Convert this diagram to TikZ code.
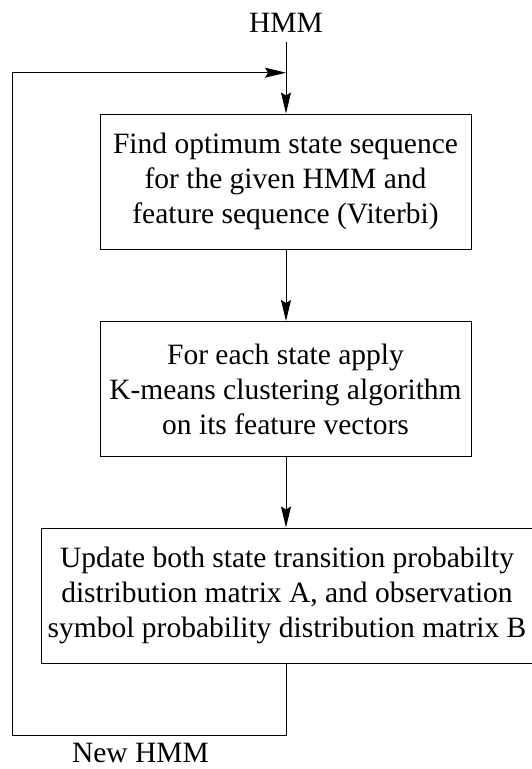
\documentclass[tikz,border=0pt]{standalone}
\usepackage{fontspec}
\setmainfont{Liberation Serif}
\usetikzlibrary{arrows.meta}
\begin{document}
\begin{tikzpicture}[x=1pt,y=-1pt,
  every node/.style={font=\fontsize{29.5}{35}\selectfont},
  procbox/.style={draw, line width=1pt, align=center, inner sep=0pt, minimum height=135pt},
  arr/.style={line width=1pt, -{Stealth[length=21pt,width=10pt,inset=3pt]}},
  conn/.style={line width=1pt}]
\useasboundingbox (0,0) rectangle (531,769);
\node[anchor=base, inner sep=0pt] (hmm) at (286,32) {HMM};
\node[procbox, minimum width=371pt] (box1) at (285.5,181.5)
  {Find optimum state sequence\\for the given HMM and\\feature sequence (Viterbi)};
\node[procbox, minimum width=371pt] (box2) at (285.5,389)
  {For each state apply\\K-means clustering algorithm\\on its feature vectors};
\node[procbox, minimum width=492pt] (box3) at (287,595.5)
  {Update both state transition probabilty\\distribution matrix A, and observation\\symbol probability distribution matrix B};
\node[anchor=base, inner sep=0pt] (newhmm) at (140.5,762) {New HMM};
\coordinate (top) at (286,42);
\coordinate (j) at (286,72.7);
\coordinate (bl) at (12.3,735);
\draw[arr] (top) -- (top |- box1.north);
\draw[arr] (box1.south -| top) -- (box2.north -| top);
\draw[arr] (box2.south -| top) -- (box3.north -| top);
\draw[conn] (box3.south -| top) |- (bl) -- (bl |- j);
\draw[arr] (bl |- j) -- (j);
\end{tikzpicture}
\end{document}
